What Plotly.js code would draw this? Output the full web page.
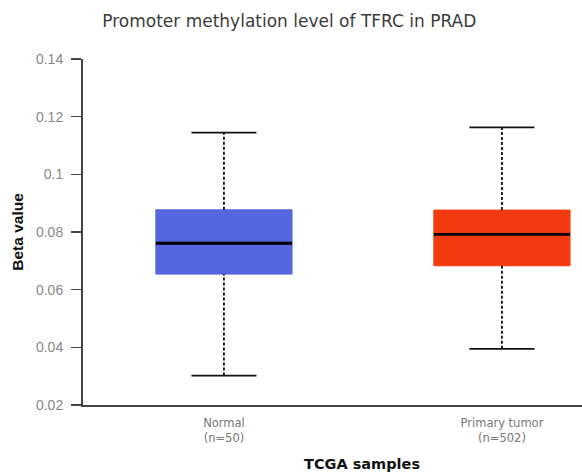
<!DOCTYPE html>
<html>
<head>
<meta charset="utf-8">
<script src="https://cdn.plot.ly/plotly-3.0.1.min.js"></script>
<style>html,body{margin:0;padding:0;background:#fff;}#chart{width:582px;height:475px;}</style>
</head>
<body>
<div id="chart"></div>
<script>
// Data
const categories = ["Normal<br>(n=50)", "Primary tumor<br>(n=502)"];
const lowerWhisker = [0.0302, 0.0395];
const q1 = [0.0654, 0.0683];
const median = [0.0761, 0.0792];
const q3 = [0.0877, 0.0876];
const upperWhisker = [0.1145, 0.1163];
const boxColors = ["#5566E0", "#F23A10"];

const xs = categories.map((c, i) => i);
const boxW = 0.49, capHalf = 0.117, medHalf = boxW / 2;

const traces = [];
traces.push({
  type: 'bar', x: xs, y: q3.map((v, i) => v - q1[i]), base: q1, width: boxW,
  marker: {color: boxColors, line: {color: boxColors, width: 1}}, hoverinfo: 'skip'
});
xs.forEach((x, i) => {
  traces.push({type: 'scatter', mode: 'lines', x: [x, x], y: [q3[i], upperWhisker[i]],
    line: {color: '#111', width: 1.8, dash: '3px,2px'}, hoverinfo: 'skip'});
  traces.push({type: 'scatter', mode: 'lines', x: [x, x], y: [lowerWhisker[i], q1[i]],
    line: {color: '#111', width: 1.8, dash: '3px,2px'}, hoverinfo: 'skip'});
  traces.push({type: 'scatter', mode: 'lines', x: [x - capHalf, x + capHalf], y: [upperWhisker[i], upperWhisker[i]],
    line: {color: '#111', width: 1.8}, hoverinfo: 'skip'});
  traces.push({type: 'scatter', mode: 'lines', x: [x - capHalf, x + capHalf], y: [lowerWhisker[i], lowerWhisker[i]],
    line: {color: '#111', width: 1.8}, hoverinfo: 'skip'});
  traces.push({type: 'scatter', mode: 'lines', x: [x - medHalf, x + medHalf], y: [median[i], median[i]],
    line: {color: '#000', width: 2.8}, hoverinfo: 'skip'});
});

const layout = {
  width: 582, height: 475,
  margin: {l: 83, r: 0, t: 59, b: 70},
  showlegend: false,
  paper_bgcolor: '#fff', plot_bgcolor: '#fff',
  title: {text: 'Promoter methylation level of TFRC in PRAD', x: 0.497, xanchor: 'center', y: 0.956, yanchor: 'middle',
    font: {family: 'DejaVu Sans', size: 17, color: '#3a3a3a'}},
  xaxis: {
    range: [-0.507, 1.288], tickvals: xs, ticktext: categories,
    showline: true, linecolor: '#444', linewidth: 2, ticks: '', showgrid: false, zeroline: false,
    ticklabelstandoff: 6,
    tickfont: {family: 'DejaVu Sans', size: 11.5, color: '#777'}
  },
  yaxis: {
    range: [0.02, 0.14], tickvals: [0.02, 0.04, 0.06, 0.08, 0.1, 0.12, 0.14],
    ticktext: ['0.02', '0.04', '0.06', '0.08', '0.1', '0.12', '0.14'],
    showline: true, linecolor: '#444', linewidth: 2, ticks: 'outside', ticklen: 10, tickwidth: 1.5, tickcolor: '#444',
    ticklabelstandoff: 5,
    showgrid: false, zeroline: false,
    tickfont: {family: 'Liberation Sans', size: 14, color: '#888'},
    title: {text: '<b>Beta value</b>', font: {family: 'Liberation Sans', size: 15.5, color: '#111'}, standoff: 9}
  },
  annotations: [{
    text: '<b>TCGA samples</b>', xref: 'paper', yref: 'paper', x: 0.559, y: -0.17,
    xanchor: 'center', yanchor: 'middle', showarrow: false,
    font: {family: 'DejaVu Sans', size: 14.5, color: '#111'}
  }]
};

Plotly.newPlot('chart', traces, layout, {displayModeBar: false, staticPlot: true});
</script>
</body>
</html>
